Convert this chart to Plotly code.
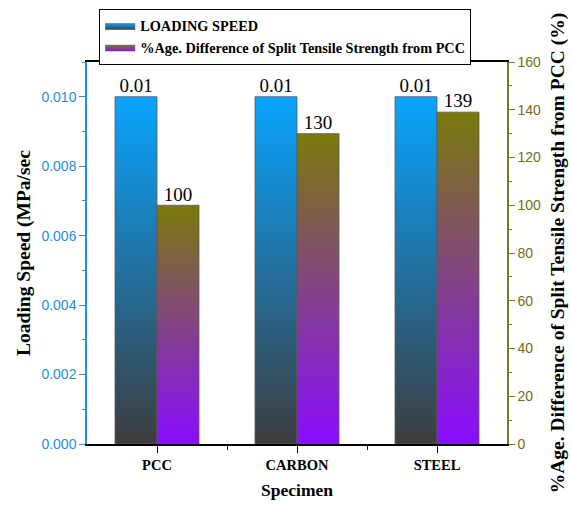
import plotly.graph_objects as go

categories = ["PCC", "CARBON", "STEEL"]
loading_speed = [0.01, 0.01, 0.01]
pct_diff = [100, 130, 139]
speed_labels = ["0.01", "0.01", "0.01"]
pct_labels = ["100", "130", "139"]

BAR_W = 0.3
SERIF = "Liberation Serif"
BLUE_GRAD = [[0, "#3c3c3e"], [1, "#08a4ff"]]
OLIVE_GRAD = [[0, "#8a0cff"], [1, "#7a7a0a"]]

fig = go.Figure()

def add_bar(xc, val, left, grad, yaxis, name, show):
    x0 = xc - BAR_W if left else xc
    x1 = x0 + BAR_W
    fig.add_trace(go.Scatter(
        x=[x0, x1, x1, x0, x0], y=[0, 0, val, val, 0],
        fill="toself", mode="lines",
        line=dict(color="rgba(90,90,90,0.8)", width=1),
        fillgradient=dict(type="vertical", colorscale=grad),
        yaxis=yaxis, name=name, showlegend=show,
        hoverinfo="skip"))

for i, (v, p) in enumerate(zip(loading_speed, pct_diff)):
    add_bar(i, v, True, BLUE_GRAD, "y", "LOADING SPEED", i == 0)
    add_bar(i, p, False, OLIVE_GRAD, "y2",
            "%Age. Difference of Split Tensile Strength from PCC", i == 0)

fig.add_trace(go.Scatter(
    x=[i - BAR_W / 2 for i in range(len(categories))], y=loading_speed,
    text=speed_labels, mode="text", textposition="top center",
    textfont=dict(family=SERIF, size=19, color="black"),
    showlegend=False, hoverinfo="skip", yaxis="y"))
fig.add_trace(go.Scatter(
    x=[i + BAR_W / 2 for i in range(len(categories))], y=pct_diff,
    text=pct_labels, mode="text", textposition="top center",
    textfont=dict(family=SERIF, size=19, color="black"),
    showlegend=False, hoverinfo="skip", yaxis="y2"))

fig.update_layout(
    width=571, height=508,
    margin=dict(l=87, r=64, t=62, b=64, autoexpand=False),
    paper_bgcolor="white", plot_bgcolor="white",
    legend=dict(x=0.029, y=1.139, xanchor="left", yanchor="top",
                bordercolor="black", borderwidth=1, bgcolor="white",
                font=dict(family=SERIF, size=14.3, color="black", weight="bold"),
                itemwidth=30, tracegroupgap=0),
    xaxis=dict(
        range=[-0.5, 2.5], tickvals=list(range(len(categories))),
        ticktext=["<b>%s</b>" % c for c in categories],
        tickfont=dict(family=SERIF, size=14.5, color="black"),
        showgrid=False, zeroline=False,
        showline=True, linecolor="black", linewidth=1.5, mirror=True,
        ticks="outside", ticklen=7, tickcolor="black",
        minor=dict(tickvals=[0.5, 1.5], ticks="outside", ticklen=4, tickcolor="black"),
        title=dict(text="<b>Specimen</b>", font=dict(family=SERIF, size=17.5, color="black"),
                   standoff=12)),
    yaxis=dict(
        range=[0, 0.011], tickvals=[0, 0.002, 0.004, 0.006, 0.008, 0.010],
        tickformat=".3f",
        tickfont=dict(family="Liberation Sans", size=14, color="#1f8fd8"),
        showgrid=False, zeroline=False,
        showline=True, linecolor="#2a8fd6", linewidth=1.5,
        ticks="outside", ticklen=6, tickcolor="#2a8fd6",
        minor=dict(dtick=0.001, ticks="outside", ticklen=3, tickcolor="#2a8fd6"),
        title=dict(text="<b>Loading Speed (MPa/sec</b>",
                   font=dict(family=SERIF, size=19.5, color="black"), standoff=6)),
    yaxis2=dict(
        overlaying="y", side="right", range=[0, 160],
        tickvals=[0, 20, 40, 60, 80, 100, 120, 140, 160],
        tickfont=dict(family="Liberation Sans", size=14, color="#6e6e18"),
        showgrid=False, zeroline=False,
        showline=True, linecolor="#7a7a2a", linewidth=1.5,
        ticks="outside", ticklen=6, tickcolor="#7a7a2a",
        minor=dict(dtick=10, ticks="outside", ticklen=3, tickcolor="#7a7a2a"),
        title=dict(text="<b>%Age. Difference of Split Tensile Strength from PCC (%)</b>",
                   font=dict(family=SERIF, size=19.5, color="black"), standoff=10)),
)

fig.write_html("out.html")
